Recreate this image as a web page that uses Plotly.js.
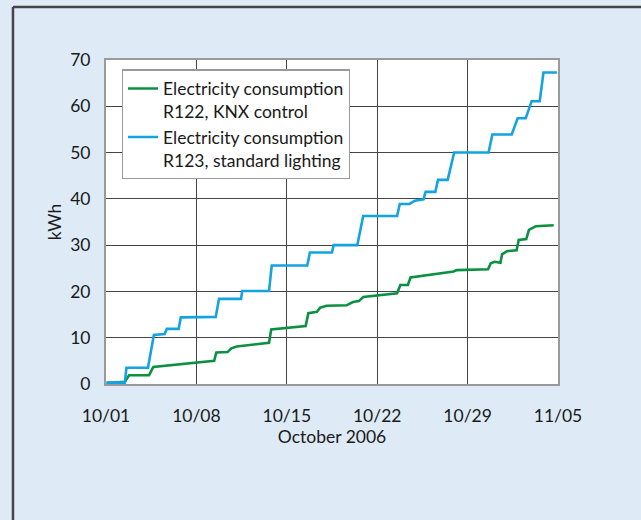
<!DOCTYPE html>
<html>
<head>
<meta charset="utf-8">
<script src="https://cdn.plot.ly/plotly-3.0.1.min.js"></script>
<style>
  html, body { margin: 0; padding: 0; background: #deebf7; }
  #chart { width: 641px; height: 520px; }
</style>
</head>
<body>
<div id="chart"></div>
<script>
// R122, KNX control (green)
const knxTimes = [
  '2006-10-01 01:00', '2006-10-01 20:00', '2006-10-02 11:00', '2006-10-02 19:00',
  '2006-10-04 08:00', '2006-10-04 16:00', '2006-10-09 09:00', '2006-10-09 13:00',
  '2006-10-10 10:00', '2006-10-10 17:00', '2006-10-11 03:00', '2006-10-13 15:00',
  '2006-10-13 19:00', '2006-10-16 11:00', '2006-10-16 16:00', '2006-10-17 08:00',
  '2006-10-17 14:00', '2006-10-18 02:00', '2006-10-19 15:00', '2006-10-20 03:00',
  '2006-10-20 14:00', '2006-10-20 22:00', '2006-10-23 13:00', '2006-10-23 19:00',
  '2006-10-24 09:00', '2006-10-24 14:00', '2006-10-27 22:00', '2006-10-28 04:00',
  '2006-10-30 14:00', '2006-10-30 19:00', '2006-10-31 02:00', '2006-10-31 13:00',
  '2006-10-31 16:00', '2006-11-01 01:00', '2006-11-01 19:00', '2006-11-01 23:00',
  '2006-11-02 13:00', '2006-11-02 18:00', '2006-11-03 07:00', '2006-11-04 16:00'
];
const knxValues = [
  0.2, 0.3, 0.5, 1.9,
  1.9, 3.7, 5.0, 6.8,
  6.9, 7.7, 8.1, 8.9,
  11.8, 12.5, 15.3, 15.6,
  16.5, 16.9, 17.0, 17.7,
  17.9, 18.8, 19.6, 21.4,
  21.4, 23.0, 24.3, 24.6,
  24.8, 26.1, 26.4, 26.2,
  28.0, 28.7, 28.9, 31.1,
  31.3, 33.3, 34.1, 34.3
];

// R123, standard lighting (blue)
const stdTimes = [
  '2006-10-01 01:00', '2006-10-02 11:00', '2006-10-02 14:00', '2006-10-04 06:00',
  '2006-10-04 17:00', '2006-10-05 13:00', '2006-10-05 17:00', '2006-10-06 15:00',
  '2006-10-06 19:00', '2006-10-09 12:00', '2006-10-09 18:00', '2006-10-11 11:00',
  '2006-10-11 13:00', '2006-10-13 15:00', '2006-10-13 20:00', '2006-10-16 14:00',
  '2006-10-16 19:00', '2006-10-18 12:00', '2006-10-18 15:00', '2006-10-20 11:00',
  '2006-10-20 22:00', '2006-10-23 13:00', '2006-10-23 18:00', '2006-10-24 12:00',
  '2006-10-24 22:00', '2006-10-25 14:00', '2006-10-25 18:00', '2006-10-26 12:00',
  '2006-10-26 17:00', '2006-10-27 11:00', '2006-10-27 23:00', '2006-10-30 15:00',
  '2006-10-30 22:00', '2006-11-01 10:00', '2006-11-01 21:00', '2006-11-02 12:00',
  '2006-11-02 23:00', '2006-11-03 14:00', '2006-11-03 21:00', '2006-11-04 22:00'
];
const stdValues = [
  0.3, 0.3, 3.5, 3.5,
  10.6, 10.8, 11.9, 11.9,
  14.4, 14.5, 18.4, 18.4,
  20.1, 20.1, 25.6, 25.6,
  28.4, 28.4, 30.0, 30.0,
  36.3, 36.3, 38.9, 38.9,
  39.6, 39.9, 41.5, 41.5,
  44.1, 44.1, 50.0, 50.0,
  53.9, 53.9, 57.4, 57.4,
  61.1, 61.1, 67.3, 67.3
];

const seriesNames = [
  'Electricity consumption<br>R122, KNX control',
  'Electricity consumption<br>R123, standard lighting'
];
const xTickVals = ['2006-10-01', '2006-10-08', '2006-10-15', '2006-10-22', '2006-10-29', '2006-11-05'];
const xTickText = ['10/01', '10/08', '10/15', '10/22', '10/29', '11/05'];
const yTickVals = [0, 10, 20, 30, 40, 50, 60, 70];

const FONT = 'Lato, "Open Sans", sans-serif';
const FS = 17.5;

const traces = [
  {
    x: knxTimes, y: knxValues, name: seriesNames[0],
    type: 'scatter', mode: 'lines',
    line: { color: '#0a9040', width: 2.6 }
  },
  {
    x: stdTimes, y: stdValues, name: seriesNames[1],
    type: 'scatter', mode: 'lines',
    line: { color: '#13a3e0', width: 2.6 }
  }
];

const layout = {
  width: 641, height: 520,
  margin: { l: 106, r: 83, t: 60, b: 136 },
  paper_bgcolor: '#deebf7',
  plot_bgcolor: '#ffffff',
  font: { family: FONT, size: FS, color: '#1a1a1a' },
  showlegend: true,
  legend: {
    x: 0.035, y: 0.971, xanchor: 'left', yanchor: 'top',
    bgcolor: '#ffffff', bordercolor: '#9a9a9a', borderwidth: 1.2,
    font: { family: FONT, size: FS, color: '#1a1a1a' },
    valign: 'top', tracegroupgap: 0
  },
  xaxis: {
    type: 'date',
    range: ['2006-10-01', '2006-11-05'],
    tickvals: xTickVals, ticktext: xTickText,
    showgrid: true, gridcolor: '#444444', gridwidth: 1,
    showline: true, mirror: true, linecolor: '#9a9a9a', linewidth: 2,
    ticks: '', ticklabelstandoff: 15,
    zeroline: false,
    title: { text: 'October 2006', font: { family: FONT, size: FS }, standoff: 0 },
    automargin: false
  },
  yaxis: {
    range: [0, 70],
    tickvals: yTickVals,
    showgrid: true, gridcolor: '#444444', gridwidth: 1,
    showline: true, mirror: true, linecolor: '#9a9a9a', linewidth: 2,
    ticks: '', ticklabelstandoff: 10,
    zeroline: false,
    title: { text: 'kWh', font: { family: FONT, size: FS }, standoff: 4 },
    automargin: false
  },
  shapes: [
    { type: 'line', xref: 'paper', yref: 'paper',
      x0: -0.2058, x1: 1.19, y0: 1.1636, y1: 1.1636,
      line: { color: '#454545', width: 2.5 } },
    { type: 'line', xref: 'paper', yref: 'paper',
      x0: -0.2058, x1: -0.2058, y0: 1.1636, y1: -0.43,
      line: { color: '#454545', width: 2.5 } }
  ]
};

Plotly.newPlot('chart', traces, layout, { displayModeBar: false, staticPlot: true });
</script>
</body>
</html>
